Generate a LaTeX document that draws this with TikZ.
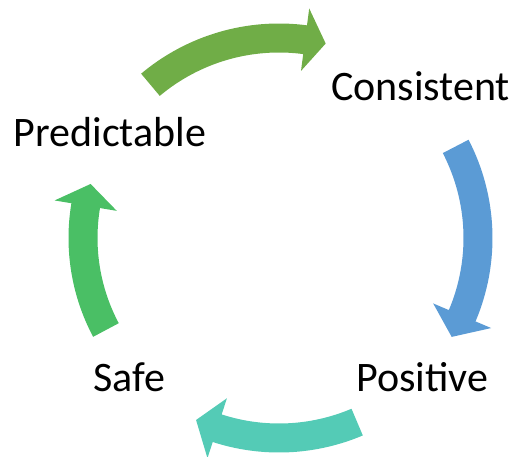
\documentclass[tikz,border=0pt]{standalone}
\usepackage{fontspec}
\setmainfont{Carlito}
\definecolor{cgreen}{HTML}{70AD47}
\definecolor{cblue}{HTML}{5B9BD5}
\definecolor{cteal}{HTML}{54CBB6}
\definecolor{clgreen}{HTML}{4ABF65}
% #1 colour, #2 radius, #3 tail angle, #4 head base angle, #5 tip angle
\newcommand\cyclearrow[5]{%
  \pgfmathsetmacro\ro{#2+14.5}\pgfmathsetmacro\ri{#2-14.5}%
  \pgfmathsetmacro\hro{#2+31.5}\pgfmathsetmacro\hri{#2-31.5}%
  \fill[#1] (#3:\ro) arc[start angle=#3, end angle=#4, radius=\ro]
    -- (#4:\hro) -- (#5:#2) -- (#4:\hri) -- (#4:\ri)
    arc[start angle=#4, end angle=#3, radius=\ri] -- cycle;}
\begin{document}
\begin{tikzpicture}[x=1pt,y=1pt,
  lbl/.style={font=\fontsize{42}{50}\selectfont, anchor=base, inner sep=0pt}]
\useasboundingbox (0,0) rectangle (516,457);
\coordinate (C) at (279,219);
\begin{scope}[shift={(C)}]
  \cyclearrow{cgreen}{200}{130}{82.5}{76.5}
  \cyclearrow{cblue}{199}{27.4}{-23}{-29.8}
  \cyclearrow{cteal}{200}{-67}{-108}{-114.5}
  \cyclearrow{clgreen}{196}{208}{170.5}{164}
\end{scope}
\node[lbl] (consistent) at (420.5,356) {Consistent};
\node[lbl] (predictable) at (110,310) {Predictable};
\node[lbl] (safe) at (129.5,65) {Safe};
\node[lbl] (positive) at (422.5,65) {Positive};
\end{tikzpicture}
\end{document}
